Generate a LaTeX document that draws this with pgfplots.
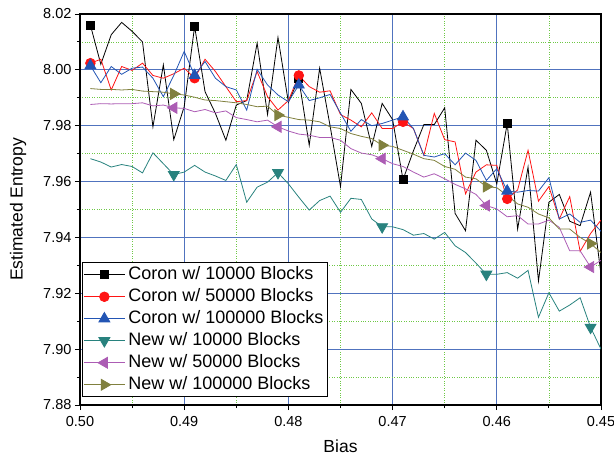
\documentclass[border=0pt]{standalone}
\usepackage{fontspec}
\setmainfont{Liberation Sans}
\usepackage{pgfplots}
\usepackage{pgfplotstable}
\pgfplotsset{compat=1.18}

\definecolor{cred}{RGB}{255,20,20}
\definecolor{cblue}{RGB}{35,85,180}
\definecolor{cteal}{RGB}{40,130,126}
\definecolor{cpurple}{RGB}{172,92,180}
\definecolor{colive}{RGB}{128,128,62}
\definecolor{gridblue}{RGB}{80,115,190}
\definecolor{gridgreen}{RGB}{110,200,70}

% bias, then entropy estimates for the six runs
\pgfplotstableread{
x     c10     c50     c100    n10     n50     n100
0.499 8.0160  8.0024  8.0015  7.9682  7.9876  7.9933
0.498 8.0020  8.0038  7.9954  7.9670  7.9879  7.9930
0.497 8.0126  7.9928  8.0012  7.9652  7.9878  7.9930
0.496 8.0170  8.0012  7.9984  7.9661  7.9879  7.9928
0.495 8.0138  7.9998  8.0006  7.9654  7.9879  7.9930
0.494 8.0100  8.0024  8.0010  7.9631  7.9882  7.9924
0.493 7.9796  7.9980  7.9970  7.9703  7.9871  7.9922
0.492 8.0018  7.9970  7.9904  7.9664  7.9874  7.9920
0.491 7.9750  7.9986  7.9980  7.9625  7.9864  7.9914
0.490 7.9868  8.0006  8.0066  7.9634  7.9862  7.9910
0.489 8.0156  7.9970  7.9980  7.9658  7.9850  7.9902
0.488 7.9922  8.0038  8.0030  7.9634  7.9858  7.9892
0.487 7.9844  7.9994  7.9970  7.9620  7.9846  7.9890
0.486 7.9748  7.9940  7.9940  7.9604  7.9853  7.9886
0.485 7.9874  7.9886  7.9928  7.9661  7.9829  7.9882
0.484 7.9890  7.9890  7.9856  7.9526  7.9822  7.9876
0.483 8.0096  7.9994  8.0002  7.9580  7.9814  7.9868
0.482 7.9840  7.9904  7.9946  7.9598  7.9820  7.9870
0.481 8.0116  7.9856  7.9910  7.9632  7.9796  7.9838
0.480 7.9884  7.9890  7.9886  7.9592  7.9781  7.9830
0.479 7.9968  7.9980  7.9946  7.9544  7.9770  7.9822
0.478 7.9730  7.9940  7.9890  7.9498  7.9766  7.9820
0.477 8.0006  7.9920  7.9900  7.9532  7.9758  7.9814
0.476 7.9800  7.9925  7.9912  7.9548  7.9758  7.9796
0.475 7.9582  7.9840  7.9845  7.9490  7.9748  7.9790
0.474 7.9930  7.9820  7.9780  7.9540  7.9718  7.9772
0.473 7.9880  7.9796  7.9822  7.9536  7.9702  7.9762
0.472 7.9726  7.9846  7.9800  7.9466  7.9696  7.9754
0.471 7.9880  7.9790  7.9808  7.9438  7.9682  7.9730
0.470 7.9822  7.9790  7.9820  7.9438  7.9664  7.9726
0.469 7.9607  7.9814  7.9832  7.9428  7.9654  7.9712
0.468 7.9710  7.9790  7.9790  7.9408  7.9634  7.9698
0.467 7.9804  7.9694  7.9694  7.9414  7.9616  7.9682
0.466 7.9804  7.9844  7.9688  7.9394  7.9628  7.9676
0.465 7.9864  7.9750  7.9700  7.9418  7.9610  7.9654
0.464 7.9486  7.9742  7.9660  7.9370  7.9590  7.9644
0.463 7.9424  7.9556  7.9702  7.9346  7.9574  7.9616
0.462 7.9748  7.9634  7.9676  7.9308  7.9554  7.9610
0.461 7.9712  7.9660  7.9604  7.9268  7.9514  7.9582
0.460 7.9592  7.9658  7.9646  7.9268  7.9502  7.9578
0.459 7.9808  7.9538  7.9566  7.9274  7.9474  7.9550
0.458 7.9430  7.9570  7.9562  7.9254  7.9478  7.9520
0.457 7.9652  7.9712  7.9568  7.9282  7.9448  7.9508
0.456 7.9244  7.9530  7.9566  7.9114  7.9448  7.9484
0.455 7.9526  7.9582  7.9614  7.9202  7.9462  7.9470
0.454 7.9554  7.9466  7.9466  7.9136  7.9436  7.9430
0.453 7.9458  7.9546  7.9484  7.9158  7.9352  7.9430
0.452 7.9442  7.9350  7.9454  7.9184  7.9352  7.9400
0.451 7.9562  7.9414  7.9462  7.9078  7.9294  7.9378
0.450 7.9268  7.9462  7.9422  7.9000  7.9318  7.9346
}\entropy

\begin{document}
\begin{tikzpicture}
\begin{axis}[
  scale only axis, width=521pt, height=391pt,
  at={(0pt,0pt)}, anchor=south west,
  x dir=reverse,
  xmin=0.45, xmax=0.50, ymin=7.88, ymax=8.02,
  xtick={0.45,0.46,0.47,0.48,0.49,0.50},
  minor xtick={0.455,0.465,0.475,0.485,0.495},
  ytick={7.88,7.90,7.92,7.94,7.96,7.98,8.00,8.02},
  minor ytick={7.89,7.91,7.93,7.95,7.97,7.99,8.01},
  /pgf/number format/assume math mode=true,
  tick label style={font=\fontsize{14.5}{16}\selectfont},
  xticklabel style={yshift=-3pt, /pgf/number format/.cd, fixed, fixed zerofill, precision=2},
  yticklabel style={/pgf/number format/.cd, fixed, fixed zerofill, precision=2},
  scaled x ticks=false, scaled y ticks=false,
  grid=both,
  major grid style={draw=gridblue, line width=0.9pt},
  minor grid style={draw=gridgreen, dotted, line width=0.7pt},
  tick align=outside, xtick pos=bottom, ytick pos=left,
  major tick length=5pt, minor tick length=3pt,
  tick style={black, line width=0.9pt},
  axis line style={line width=1.5pt},
  xlabel={Bias}, ylabel={Estimated Entropy},
  every axis x label/.style={at={(axis description cs:0.5,0)}, yshift=-41pt, anchor=center, font=\fontsize{17.5}{20}\selectfont},
  every axis y label/.style={at={(axis description cs:0,0.5)}, xshift=-62pt, rotate=90, anchor=center, font=\fontsize{17.5}{20}\selectfont},
  legend cell align=left,
  legend style={at={(axis description cs:0.004,0.02)}, anchor=south west,
    draw=black, line width=0.8pt, fill=white,
    font=\fontsize{18}{20}\selectfont,
    inner xsep=1pt, inner ysep=1pt, row sep=0pt,
    nodes={inner ysep=2.5pt, inner xsep=3pt, text height=13pt, text depth=4pt}},
  legend image code/.code={
    \draw[mark repeat=2, mark phase=2, line width=0.8pt] plot coordinates {(0pt,0pt) (20.5pt,0pt) (41pt,0pt)};
  },
  every axis plot/.append style={line width=0.8pt},
]
\addplot[black, mark=square*, mark size=4pt, mark repeat=10, mark phase=1,
  mark options={solid, fill=black}] table[x=x, y=c10] {\entropy};
\addlegendentry{Coron w/ 10000 Blocks}
\addplot[cred, mark=*, mark size=4.8pt, mark repeat=10, mark phase=1,
  mark options={solid, fill=cred, draw=cred}] table[x=x, y=c50] {\entropy};
\addlegendentry{Coron w/ 50000 Blocks}
\addplot[cblue, mark=triangle*, mark size=6.3pt, mark repeat=10, mark phase=1,
  mark options={solid, fill=cblue}] table[x=x, y=c100] {\entropy};
\addlegendentry{Coron w/ 100000 Blocks}
\addplot[cteal, mark=triangle*, mark size=6.3pt, mark repeat=10, mark phase=9,
  mark options={solid, fill=cteal, rotate=180}] table[x=x, y=n10] {\entropy};
\addlegendentry{New w/ 10000 Blocks}
\addplot[cpurple, mark=triangle*, mark size=6.3pt, mark repeat=10, mark phase=9,
  mark options={solid, fill=cpurple, rotate=90}] table[x=x, y=n50] {\entropy};
\addlegendentry{New w/ 50000 Blocks}
\addplot[colive, mark=triangle*, mark size=6.3pt, mark repeat=10, mark phase=9,
  mark options={solid, fill=colive, rotate=-90}] table[x=x, y=n100] {\entropy};
\addlegendentry{New w/ 100000 Blocks}
\end{axis}
\pgfresetboundingbox
\path[use as bounding box] (-80pt,-56pt) rectangle (534pt,405pt);
\end{tikzpicture}
\end{document}
